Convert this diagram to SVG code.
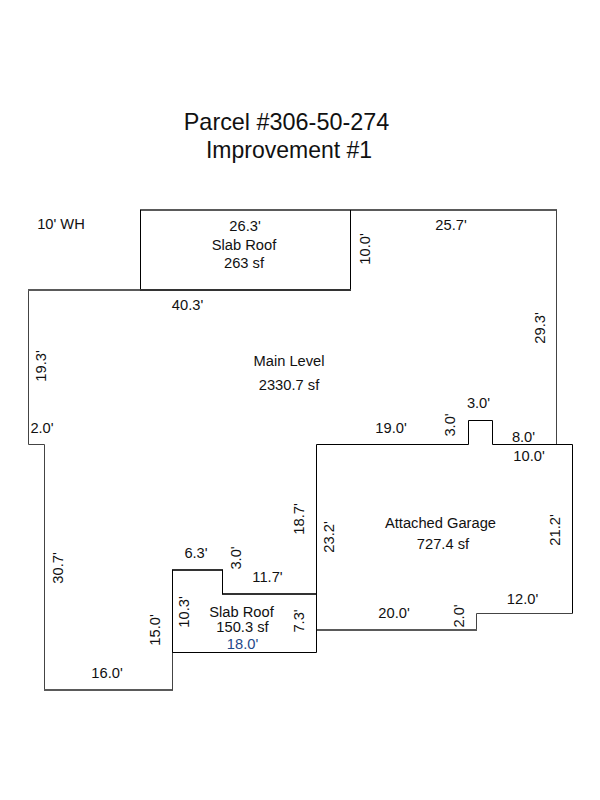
<svg xmlns="http://www.w3.org/2000/svg" width="600" height="800" viewBox="0 0 600 800">
<style>
text{font-family:"Liberation Sans",Arial,sans-serif;font-size:14.700px;fill:#111;text-anchor:middle}
.t{font-size:23.400px}
.t2{font-size:23px}
.b{fill:#1f4a8a}
.w{fill:none;stroke:#000;stroke-width:1}
.d{fill:none;stroke:#333;stroke-width:2}
.g{fill:none;stroke:#5a5a5a;stroke-width:2}
.s{fill:none;stroke:#444;stroke-width:1}
</style>
<rect width="600" height="800" fill="#fff"/>
<g id="title">
<text class="t" x="286.500" y="129.500">Parcel #306-50-274</text>
<text class="t2" x="289" y="158">Improvement #1</text>
<text x="61" y="229">10' WH</text>
</g>
<g id="connectors">
<path class="g" d="M140 210H557"/>
<path class="s" d="M556.500 210V444M28.500 290V444.500H44.500V690"/>
<path class="g" d="M28 290H140M44 690H173"/>
<path class="s" d="M172.500 690V652"/>
</g>
<g id="slab-roof-north">
<path class="w" d="M140.500 210V289M350.500 289V210"/>
<path class="d" d="M140 290H351"/>
<text x="245" y="231">26.3'</text>
<text x="244" y="250">Slab Roof</text>
<text x="244" y="268">263 sf</text>
<text transform="translate(370 249) rotate(-90)">10.0'</text>
</g>
<g id="main-level">
<text x="289" y="366">Main Level</text>
<text x="289" y="390">2330.7 sf</text>
<text x="187.500" y="310">40.3'</text>
<text x="451" y="230">25.7'</text>
<text transform="translate(545 328) rotate(-90)">29.3'</text>
<text transform="translate(46 366) rotate(-90)">19.3'</text>
<text x="42" y="433">2.0'</text>
<text transform="translate(63 568) rotate(-90)">30.7'</text>
<text x="107" y="678">16.0'</text>
<text transform="translate(160 630) rotate(-90)">15.0'</text>
<text transform="translate(304 519) rotate(-90)">18.7'</text>
<text x="391" y="433">19.0'</text>
<text transform="translate(455 425) rotate(-90)">3.0'</text>
<text x="478.500" y="408">3.0'</text>
<text x="523.500" y="442">8.0'</text>
<text x="196" y="558">6.3'</text>
<text transform="translate(241 558) rotate(-90)">3.0'</text>
<text x="267.500" y="582">11.7'</text>
</g>
<g id="slab-roof-south">
<path class="d" d="M172 570H223"/>
<path class="d" d="M222 594H317"/>
<path class="w" d="M172.500 570V652.500H316.500V594M222.500 570V594"/>
<text x="241.500" y="617">Slab Roof</text>
<text x="242.500" y="632">150.3 sf</text>
<text class="b" x="242.500" y="649">18.0'</text>
<text transform="translate(189 612) rotate(-90)">10.3'</text>
<text transform="translate(304 621) rotate(-90)">7.3'</text>
</g>
<g id="attached-garage">
<path class="w" d="M316.500 630V444.500H468.500V420.500H492.500V444.500H572.500V613.500"/>
<path class="s" d="M572.500 613.500H476.500V630"/>
<path class="g" d="M477 630H317"/>
<text x="440.500" y="528">Attached Garage</text>
<text x="443" y="549">727.4 sf</text>
<text x="529" y="461">10.0'</text>
<text transform="translate(334 537) rotate(-90)">23.2'</text>
<text transform="translate(560 530) rotate(-90)">21.2'</text>
<text x="394" y="618">20.0'</text>
<text transform="translate(464 616) rotate(-90)">2.0'</text>
<text x="522.500" y="604">12.0'</text>
</g>
</svg>
